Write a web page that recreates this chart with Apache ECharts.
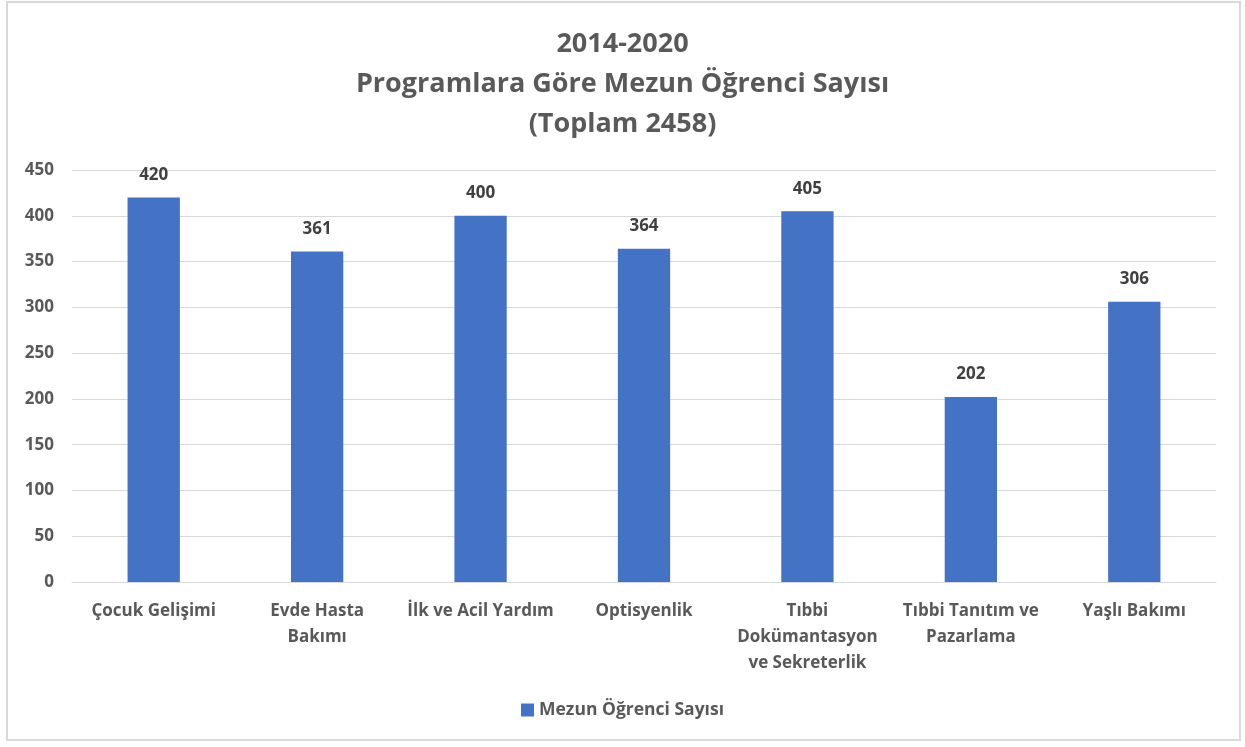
<!DOCTYPE html>
<html>
<head>
<meta charset="utf-8">
<script src="https://cdn.jsdelivr.net/npm/echarts@6/dist/echarts.min.js"></script>
<style>
  html, body { margin: 0; padding: 0; background: #fff; }
  #frame {
    position: absolute; left: 6px; top: 1px; width: 1235px; height: 740px;
    border: 2px solid #d9d9d9; box-sizing: border-box;
  }
  #chart { position: absolute; left: 0; top: 0; width: 1245px; height: 747px; }
</style>
</head>
<body>
<div id="frame"></div>
<div id="chart"></div>
<script>
  // programs and graduate counts (2014-2020)
  const programs = [
    'Çocuk Gelişimi',
    'Evde Hasta\nBakımı',
    'İlk ve Acil Yardım',
    'Optisyenlik',
    'Tıbbi\nDokümantasyon\nve Sekreterlik',
    'Tıbbi Tanıtım ve\nPazarlama',
    'Yaşlı Bakımı'
  ];
  const graduates = [420, 361, 400, 364, 405, 202, 306];
  const seriesName = 'Mezun Öğrenci Sayısı';
  const titleText = '2014-2020\nProgramlara Göre Mezun Öğrenci Sayısı\n(Toplam 2458)';

  const FONT = '"Open Sans", "Noto Sans", sans-serif';
  const GRAY = '#595959';

  const chart = echarts.init(document.getElementById('chart'), null, { renderer: 'canvas' });

  chart.setOption({
    backgroundColor: 'transparent',
    animation: false,
    title: {
      text: titleText,
      left: 'center',
      top: 19,
      textStyle: {
        fontFamily: FONT,
        fontSize: 27,
        fontWeight: 'bold',
        color: GRAY,
        lineHeight: 40
      }
    },
    grid: { left: 72, right: 29, top: 170, bottom: 165, containLabel: false },
    legend: {
      bottom: 23,
      left: 'center',
      itemWidth: 13,
      itemHeight: 13,
      itemGap: 6,
      icon: 'rect',
      textStyle: { fontFamily: FONT, fontSize: 17.5, fontWeight: 'bold', color: GRAY }
    },
    xAxis: {
      type: 'category',
      data: programs,
      axisLine: { lineStyle: { color: '#d9d9d9', width: 1 } },
      axisTick: { show: false },
      axisLabel: {
        interval: 0,
        margin: 16,
        fontFamily: FONT,
        fontSize: 17,
        fontWeight: 'bold',
        color: GRAY,
        lineHeight: 26
      }
    },
    yAxis: {
      type: 'value',
      min: 0,
      max: 450,
      interval: 50,
      axisLine: { show: false },
      axisTick: { show: false },
      splitLine: { lineStyle: { color: '#d9d9d9', width: 1 } },
      axisLabel: {
        margin: 18,
        fontFamily: FONT,
        fontSize: 17,
        fontWeight: 'bold',
        color: GRAY
      }
    },
    series: [{
      name: seriesName,
      type: 'bar',
      data: graduates,
      barWidth: '32%',
      itemStyle: { color: '#4472c4' },
      label: {
        show: true,
        position: 'top',
        distance: 14,
        fontFamily: FONT,
        fontSize: 17,
        fontWeight: 'bold',
        color: '#404040'
      }
    }]
  });
</script>
</body>
</html>
